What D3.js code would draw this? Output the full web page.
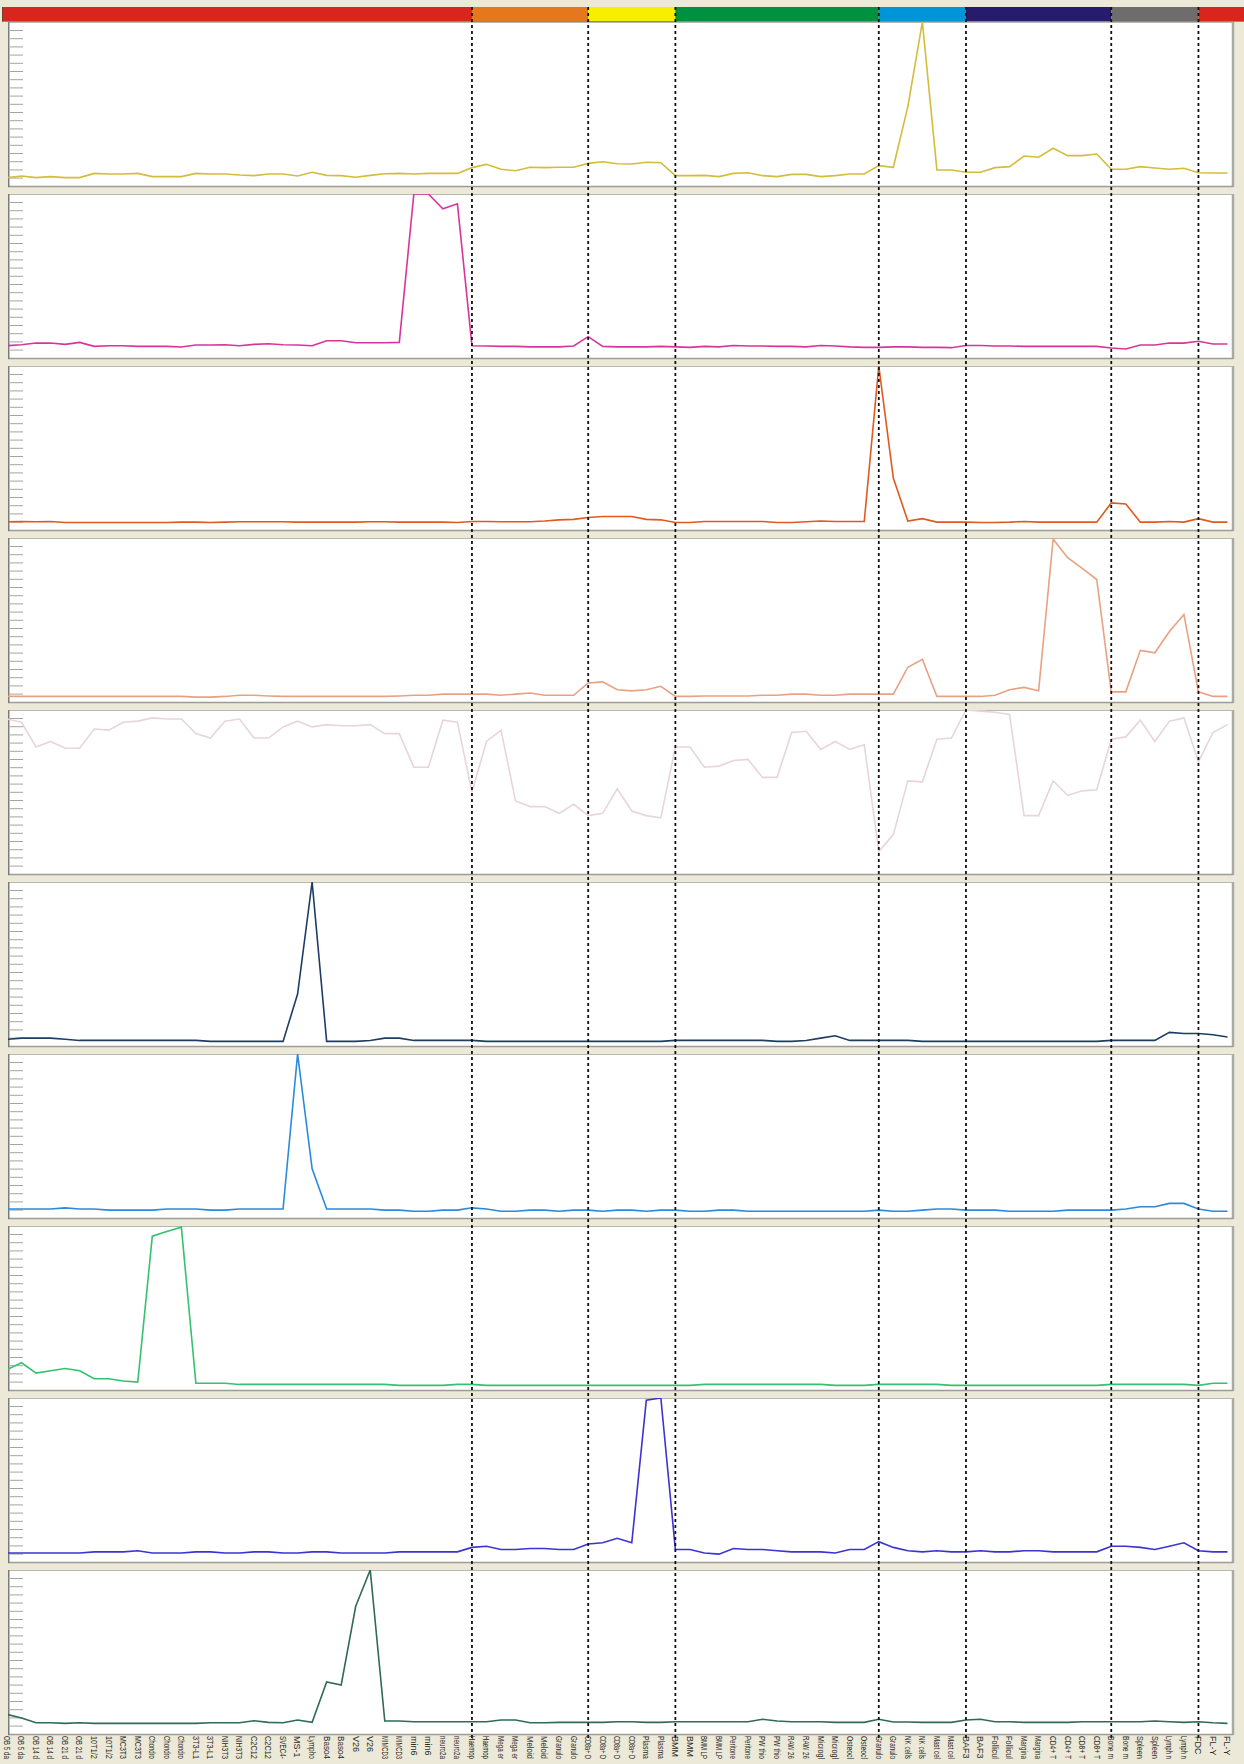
<!DOCTYPE html>
<html><head><meta charset="utf-8">
<script src="https://cdn.jsdelivr.net/npm/d3@7"></script>
<style>body{margin:0;background:#ECE9D8;overflow:hidden} svg{display:block}</style>
</head><body><svg id="c" width="1244" height="1764"></svg>
<script>
// ---------------- data ----------------
const sampleLabels = [
 "OB 5 da","OB 5 da","OB 14 d","OB 14 d","OB 21 d","OB 21 d","10T1/2","10T1/2","MC3T3","MC3T3",
 "Chondro","Chondro","Chondro","3T3-L1","3T3-L1","NIH3T3","NIH3T3","C2C12","C2C12","SVEC4-",
 "MS-1","Lympho","Baso4","Baso4","V26","V26","MIMCD3","MIMCD3","min6","min6",
 "neuro2a","neuro2a","Haemop","Haemop","Mega er","Mega er","Meloid","Meloid","Granulo","Granulo",
 "CD8a+ D","CD8a+ D","CD8a+ D","CD8a+ D","Plasma","Plasma","BMM","BMM","BMM LP","BMM LP",
 "Peritone","Peritone","PW thio","PW thio","RAW 26","RAW 26","Microgl","Microgl","Osteocl","Osteocl",
 "Granulo","Granulo","NK cells","NK cells","Mast cel","Mast cel","BAF3","BAF3","Follicul","Follicul",
 "Margina","Margina","CD4+ T","CD4+ T","CD8+ T","CD8+ T","Bone m","Bone m","Spleen","Spleen",
 "Lymph n","Lymph n","FDC","FL-Y","FL-Y"
];
const groupStarts = [0, 32, 40, 46, 60, 66, 76, 82];
const groupColors = ["#d8261f","#e4781b","#f8ef00","#009140","#0095d9","#261b6c","#6f6d6c","#d8261f"];

const s1 = [5.1,6.1,5.1,5.7,5.1,5.1,7.7,7.3,7.3,7.7, 5.7,5.7,5.7,7.7,7.3,7.3,6.7,6.3,7.3,7.3, 6.1,8.4,6.5,6.3,5.3,6.5,7.5,7.7,7.3,7.7, 7.7,7.7,11.2,13.2,10.2,9.3,11.4,11.2,11.4,11.4, 13.8,14.8,13.6,13.4,14.5,14.2,6.3,6.3,6.5,5.7, 7.7,8.1,6.3,5.7,7.1,7.1,5.7,6.3,7.3,7.3, 12.4,11.4,48.4,100,9.8,9.8,8.4,8.4,11.2,11.8, 18.3,17.5,23,18.5,18.5,19.5,10.2,10.2,11.8,11, 10.2,10.8,8.1,7.9,7.9];
const s2 = [7.5,8.1,9.1,9.1,8.3,9.5,7.1,7.5,7.5,7.1, 7.1,7.1,6.7,7.9,7.9,8.1,7.5,8.3,8.7,8.1, 7.9,7.5,10.5,10.5,9.3,9.3,9.3,9.5,100,100, 91,94,7.5,7.3,7.1,7.1,6.8,6.8,6.8,7.3, 13,7.1,6.8,6.8,6.8,7.1,6.8,6.5,7.1,6.8, 7.6,7.3,7.3,7.1,7.1,6.8,7.6,7.3,6.8,6.5, 6.5,6.8,6.8,6.5,6.5,6.3,7.6,7.6,7.3,7.3, 7.1,7.1,7.1,7.1,7.1,7.1,6.1,5.5,7.9,7.9, 9.1,9.1,10.2,8.5,8.5];
const s3 = [5.0,5.2,5.0,5.2,4.6,4.6,4.6,4.6,4.6,4.6, 4.6,4.6,4.8,4.8,4.6,4.8,5.0,5.0,5.0,5.0, 4.8,4.8,4.8,4.8,4.8,5.0,5.0,4.8,4.8,4.8, 4.8,4.6,5.2,5.2,5.0,5.0,5.0,5.5,6.2,6.5, 7.6,8.2,8.2,8.2,6.5,6.2,4.6,4.6,5.2,5.2, 5.2,5.2,5.2,4.6,4.6,5.0,5.5,5.2,5.2,5.2, 100,31.7,5.5,6.9,4.8,4.8,4.8,4.6,4.6,4.8, 5.2,4.8,4.8,4.8,4.8,4.8,16.5,15.9,4.8,4.8, 5.2,4.8,6.9,4.8,4.8];
const s4 = [3.4,3.4,3.4,3.4,3.4,3.4,3.4,3.4,3.4,3.4, 3.4,3.4,3.4,3.0,3.0,3.4,4.1,4.1,3.7,3.4, 3.4,3.4,3.4,3.4,3.4,3.4,3.4,3.7,4.1,4.1, 4.8,4.8,4.8,4.8,4.1,4.8,5.5,4.1,4.1,4.1, 11.6,12.3,7.5,6.8,7.5,9.6,3.4,3.4,3.7,3.7, 3.7,3.7,4.1,4.1,4.8,4.8,4.1,4.1,4.8,4.8, 4.8,4.8,21.2,26,3.4,3.4,3.4,3.4,4.1,7.5, 8.9,6.8,99.3,88,81.5,74.7,6.2,6.2,31.5,30, 43,53.4,6.2,3.4,3.4];
const s5 = [94.5,92.5,77.4,80.8,76.7,76.7,88.4,87.7,92.5,93.2, 95.2,94.5,94.5,85.6,82.9,93.2,94.5,82.9,82.9,89.7, 93.2,89.7,91.1,90.4,90.4,91.1,85.6,85.6,65.1,65.1, 93.8,92.5,50,80.8,87.7,44.5,41.1,41.1,37,42.5, 35.6,37,52,38.4,35.6,34.2,77.4,77.4,65.1,65.8, 69.2,69.9,58.9,58.9,86.3,87,76,80.8,76,78.8, 13.7,24,56.8,56.2,82.2,82.9,100,99.3,98.6,97.3, 35.6,35.6,56.8,47.9,50.7,51.4,82.2,83.6,93.8,80.8, 93.2,95.2,68.5,86.3,91.1];
const s6 = [4.1,4.8,4.8,4.8,4.1,3.4,3.4,3.4,3.4,3.4, 3.4,3.4,3.4,3.4,2.8,2.8,2.8,2.8,2.8,2.8, 31.7,100,2.8,2.8,2.8,3.4,4.8,4.8,3.4,3.4, 3.4,3.4,3.4,2.8,2.8,2.8,2.8,2.8,2.8,2.8, 2.8,2.8,2.8,2.8,2.8,2.8,3.4,3.4,3.4,3.4, 3.4,3.4,3.4,2.8,2.8,3.4,4.8,6.2,3.4,3.4, 3.4,3.4,3.4,2.8,2.8,2.8,2.8,2.8,2.8,2.8, 2.8,2.8,2.8,2.8,2.8,2.8,3.4,3.4,3.4,3.4, 8.3,7.6,7.6,6.9,5.5];
const s7 = [5.5,5.5,5.5,5.5,6.2,5.5,5.5,4.8,4.8,4.8, 4.8,5.5,5.5,5.5,4.8,4.8,5.5,5.5,5.5,5.5, 100,30,5.5,5.5,5.5,5.5,4.8,4.8,4.1,4.1, 4.8,4.8,6.2,5.5,4.1,4.1,4.8,4.8,4.1,4.8, 4.8,4.1,4.8,4.8,4.1,4.8,4.8,4.1,4.1,4.8, 4.8,4.1,4.1,4.1,4.1,4.1,4.1,4.1,4.1,4.1, 4.8,4.1,4.1,4.8,5.5,5.5,4.8,4.8,4.8,4.1, 4.1,4.1,4.1,4.8,4.8,4.8,4.8,5.5,6.9,6.9, 8.9,8.9,5.5,4.1,4.1];
const s8 = [12.4,16.6,10.3,11.7,13.1,11.7,6.9,6.9,5.5,4.8, 93.8,96.6,99.3,4.1,4.1,4.1,3.4,3.4,3.4,3.4, 3.4,3.4,3.4,3.4,3.4,3.4,3.4,2.8,2.8,2.8, 2.8,3.4,3.4,2.8,2.8,2.8,2.8,2.8,2.8,2.8, 2.8,2.8,2.8,2.8,2.8,2.8,2.8,2.8,3.4,3.4, 3.4,3.4,3.4,3.4,3.4,3.4,3.4,2.8,2.8,2.8, 3.4,3.4,3.4,3.4,3.4,2.8,2.8,2.8,2.8,2.8, 2.8,2.8,2.8,2.8,2.8,2.8,3.4,3.4,3.4,3.4, 3.4,3.4,2.8,4.1,4.1];
const s9 = [5.5,5.5,5.5,5.5,5.5,5.5,6.2,6.2,6.2,6.9, 5.5,5.5,5.5,6.2,6.2,5.5,5.5,6.2,6.2,5.5, 5.5,6.2,6.2,5.5,5.5,5.5,5.5,6.2,6.2,6.2, 6.2,6.2,8.9,9.6,7.6,7.6,8.2,8.2,7.6,7.6, 11,11.7,14.5,11.7,98.6,100,7.6,7.6,5.5,4.8, 8.2,7.6,7.6,6.9,6.2,6.2,6.2,5.5,7.6,7.6, 12.4,8.9,6.9,6.2,6.9,6.2,6.2,6.9,6.2,6.2, 6.9,6.9,6.2,6.2,6.2,6.2,9.6,9.6,8.9,7.6, 9.6,11.7,6.9,6.2,6.2];
const s10 = [12,9.8,6.9,6.9,6.5,6.9,6.5,6.5,6.5,6.5, 6.5,6.5,6.5,6.5,6.9,6.9,6.9,8.1,7.1,6.9, 8.5,7.1,31.7,29.9,77.9,100,7.9,7.9,7.5,7.5, 7.5,7.5,7.5,7.5,8.5,8.5,6.9,6.9,7.1,7.1, 7.1,7.1,7.5,7.5,7.1,7.1,7.5,7.5,7.5,7.5, 7.5,7.5,9,7.9,7.5,7.5,7.5,7.1,7.1,7.1, 9,7.3,7.3,7.1,7.1,7.1,8.5,9,7.5,7.5, 7.1,7.1,7.1,7.1,7.5,7.5,7.5,7.5,7.5,7.9, 7.5,7.1,7.5,6.9,6.5];

const seriesList = [s1,s2,s3,s4,s5,s6,s7,s8,s9,s10];
const seriesColors = ["#d3bd3a","#d8359b","#df5b1d","#e9a183","#e8d5d9","#1d3d64","#2b8ada","#35c270","#3b34d1","#2f6b57"];

// ---------------- drawing ----------------
const svg = d3.select("#c");
const W = 1244;
const x = d3.scaleLinear().domain([0, 84]).range([7, 1227.5]);

const panelLeft = 8, panelRight = 1233, panelH = 164, panelTop0 = 22, panelPitch = 172;

svg.append("rect").attr("width", W).attr("height", 1764).attr("fill", "#ECE9D8");

// colour bar
const barTop = 7, barBottom = 21.5;
groupStarts.forEach((g, k) => {
  const x0 = k === 0 ? 2 : x(g);
  const x1 = k === groupStarts.length - 1 ? 1244 : x(groupStarts[k + 1]);
  svg.append("rect").attr("x", x0).attr("y", barTop).attr("width", x1 - x0)
    .attr("height", barBottom - barTop).attr("fill", groupColors[k]);
});
svg.append("line").attr("x1", 2).attr("x2", 1244).attr("y1", barBottom).attr("y2", barBottom)
  .attr("stroke", "#8a8a80").attr("stroke-width", 1);
svg.append("line").attr("x1", 2.5).attr("x2", 2.5).attr("y1", barTop).attr("y2", barBottom)
  .attr("stroke", "#7a3a30").attr("stroke-width", 1);

const line = d3.line().x((d, i) => x(i));

seriesList.forEach((vals, k) => {
  const top = panelTop0 + panelPitch * k;
  const g = svg.append("g");
  const y = d3.scaleLinear().domain([0, 100]).range([top + panelH, top]);
  g.append("rect").attr("x", panelLeft).attr("y", top).attr("width", panelRight - panelLeft)
    .attr("height", panelH).attr("fill", "#ffffff");
  // frame
  g.append("line").attr("x1", panelRight).attr("x2", panelRight).attr("y1", top).attr("y2", top + panelH + 1)
    .attr("stroke", "#a9a9a4").attr("stroke-width", 2.5);
  g.append("line").attr("x1", panelLeft).attr("x2", panelRight).attr("y1", top + panelH + 0.5).attr("y2", top + panelH + 0.5)
    .attr("stroke", "#9c9c98").attr("stroke-width", 1.5);
  g.append("line").attr("x1", panelLeft).attr("x2", panelRight).attr("y1", top + 0.5).attr("y2", top + 0.5)
    .attr("stroke", "#b8b8b2").attr("stroke-width", 1);
  g.append("line").attr("x1", panelLeft + 0.75).attr("x2", panelLeft + 0.75).attr("y1", top).attr("y2", top + panelH + 1)
    .attr("stroke", "#7b7b78").attr("stroke-width", 1.5);
  // tick marks
  const tickScale = d3.scaleLinear().domain([0, 18]).range([top + 8, top + 155.6]);
  const axis = d3.axisRight(tickScale).tickValues(d3.range(19)).tickSize(13).tickFormat("");
  const ag = g.append("g").attr("transform", `translate(${panelLeft + 2},0)`).call(axis);
  ag.select(".domain").remove();
  ag.selectAll(".tick line").attr("stroke", "#a4a4a4").attr("stroke-width", 1);
  // clip
  const cid = "clip" + k;
  svg.append("clipPath").attr("id", cid).append("rect").attr("x", panelLeft).attr("y", top)
    .attr("width", panelRight - panelLeft).attr("height", panelH);
  g.append("path").datum(vals)
    .attr("d", line.y(d => y(d)))
    .attr("fill", "none").attr("stroke", seriesColors[k]).attr("stroke-width", 1.6)
    .attr("stroke-linejoin", "miter").attr("clip-path", `url(#${cid})`);
});

// dashed separators
groupStarts.slice(1).forEach(g => {
  svg.append("line").attr("x1", x(g)).attr("x2", x(g)).attr("y1", barTop).attr("y2", 1739)
    .attr("stroke", "#111").attr("stroke-width", 1.8).attr("stroke-dasharray", "3,3");
});

// labels (compressed along their length so that they end above the page edge)
const labTop = 1736, labMax = 23;
svg.append("g").selectAll("text").data(sampleLabels).join("text")
  .attr("dy", "0.35em")
  .attr("font-family", "'Liberation Sans Narrow', 'Liberation Sans', Arial, sans-serif")
  .attr("font-size", 9)
  .attr("fill", "#2a2a2a")
  .text(d => d)
  .each(function (d, i) {
    const len = this.getComputedTextLength();
    const sx = len > labMax ? labMax / len : 1;
    d3.select(this).attr("transform", `translate(${x(i)},${labTop}) rotate(90) scale(${sx},1)`);
  });
</script>
</body></html>
